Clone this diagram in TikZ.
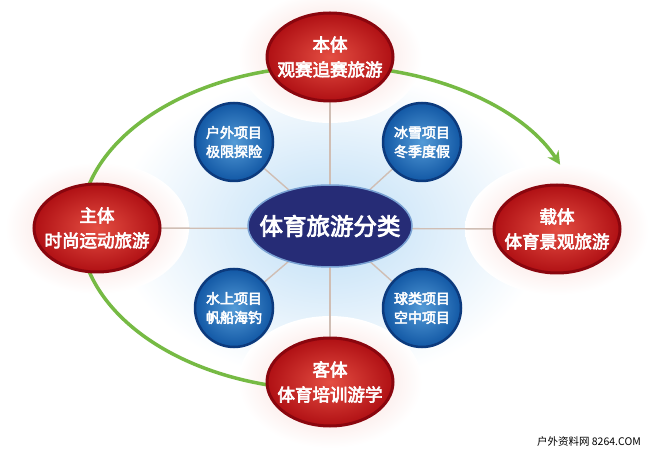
\documentclass[tikz,border=0pt]{standalone}
\usepackage{fontspec}
\newfontfamily\cjk{Noto Sans CJK SC}
\newfontfamily\cjkb{Noto Sans CJK SC}[FakeBold=3.5]
\usetikzlibrary{shapes.geometric,arrows.meta}
\definecolor{redIn}{RGB}{228,78,66}
\definecolor{redOut}{RGB}{176,16,20}
\definecolor{redRim}{RGB}{138,6,14}
\definecolor{redGlow}{RGB}{248,210,205}
\definecolor{blueIn}{RGB}{84,155,215}
\definecolor{blueOut}{RGB}{18,88,165}
\definecolor{blueRim}{RGB}{12,58,125}
\definecolor{navy}{RGB}{38,44,118}
\definecolor{navyRim}{RGB}{120,160,210}
\definecolor{skyGlow}{RGB}{190,222,246}
\definecolor{arcGreen}{RGB}{118,186,68}
\definecolor{linkGray}{RGB}{208,190,180}
\pgfdeclarelayer{glow}
\pgfdeclarelayer{links}
\pgfsetlayers{glow,links,main}
\tikzset{
  redbox/.style={ellipse, minimum width=126pt, minimum height=88pt, inner sep=0pt,
    shading=radial, inner color=redIn, outer color=redOut, draw=redRim, line width=3pt},
  bluebox/.style={circle, minimum size=78pt, inner sep=0pt,
    shading=radial, inner color=blueIn, outer color=blueOut, draw=blueRim, line width=2.5pt},
  hubbox/.style={ellipse, minimum width=164pt, minimum height=82pt, inner sep=0pt,
    fill=navy, draw=navyRim, line width=1.5pt},
  redtxt/.style={text=white, align=center, font=\cjkb\fontsize{17.5}{25}\selectfont},
  bluetxt/.style={text=white, align=center, font=\cjkb\fontsize{14}{19}\selectfont},
  hubtxt/.style={text=white, align=center, font=\cjkb\fontsize{23.5}{28}\selectfont},
  link/.style={draw=linkGray, line width=1.4pt},
  cycle/.style={draw=arcGreen, line width=3.5pt, -{Stealth[length=13pt,width=13pt]}},
  markstyle/.style={font=\cjk\fontsize{10.5}{12}\selectfont, text=black, anchor=east, inner sep=1pt}
}
\begin{document}
\begin{tikzpicture}[x=1pt,y=1pt]
\useasboundingbox (0,0) rectangle (650,450);

% nodes
\node[hubbox, label={[hubtxt]center:体育旅游分类}] (hub) at (330,224) {};
\node[redbox, label={[redtxt]center:本体\\观赛追赛旅游}] (top) at (330,393) {};
\node[redbox, label={[redtxt]center:主体\\时尚运动旅游}] (left) at (97,222) {};
\node[redbox, label={[redtxt]center:载体\\体育景观旅游}] (right) at (557,221) {};
\node[redbox, label={[redtxt]center:客体\\体育培训游学}] (bottom) at (330,68) {};
\node[bluebox, label={[bluetxt]center:户外项目\\极限探险}] (ul) at (234,308) {};
\node[bluebox, label={[bluetxt]center:冰雪项目\\冬季度假}] (ur) at (422,308) {};
\node[bluebox, label={[bluetxt]center:水上项目\\帆船海钓}] (ll) at (234,142) {};
\node[bluebox, label={[bluetxt]center:球类项目\\空中项目}] (lr) at (422,142) {};

\begin{pgfonlayer}{glow}
  \fill[white] (0,0) rectangle (650,450);
  \shade[inner color=skyGlow, outer color=white] (hub.center) ellipse [x radius=215, y radius=155];
  \foreach \n in {top,left,right,bottom}
    \shade[inner color=redGlow, outer color=white] (\n.center) ellipse [x radius=92, y radius=66];
\end{pgfonlayer}

\begin{pgfonlayer}{links}
  \draw[link] (top.center) -- (bottom.center);
  \draw[link] (left.center) -- (right.center);
  \draw[link] (ul.center) -- (hub.center);
  \draw[link] (ur.center) -- (hub.center);
  \draw[link] (ll.center) -- (hub.center);
  \draw[link] (lr.center) -- (hub.center);
  \coordinate (arcstart) at ([shift={(260:250 and 162)}]330,222);
  \draw[cycle] (arcstart) arc[start angle=260, end angle=23, x radius=250, y radius=162];
\end{pgfonlayer}

\node[markstyle, fill=white] (mark) at (642,8) {户外资料网 8264.COM};
\end{tikzpicture}
\end{document}
